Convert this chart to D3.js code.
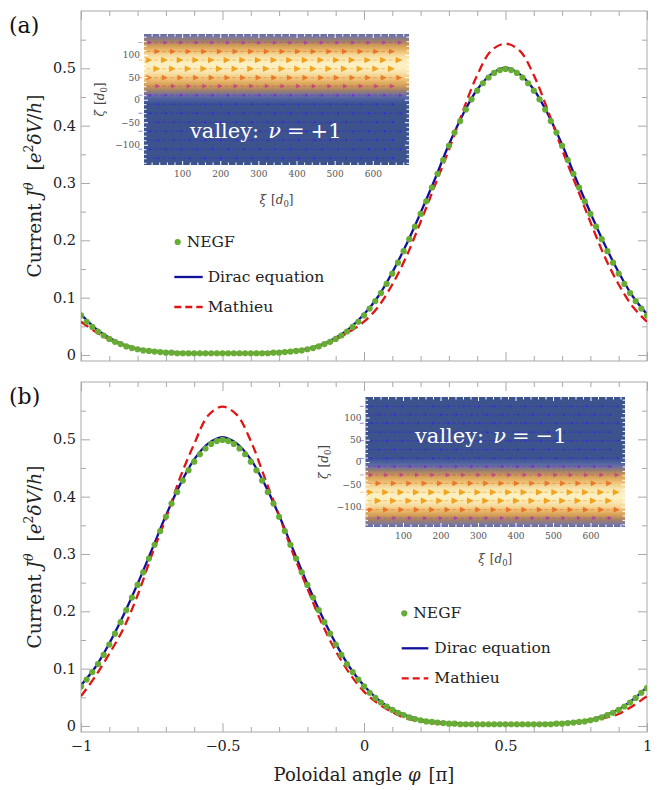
<!DOCTYPE html>
<html><head><meta charset="utf-8">
<script src="https://cdn.jsdelivr.net/npm/d3@7/dist/d3.min.js"></script>
<style>
body{margin:0;background:#fff}
svg{display:block}
svg text{font-family:"DejaVu Serif",serif}
</style>
</head><body>
<svg id="c" width="660" height="790"></svg>
<script>
// ---------------- DATA ----------------
const phiLine = [-1,-0.95,-0.9,-0.85,-0.8,-0.75,-0.7,-0.65,-0.6,-0.55,
  -0.5,-0.45,-0.4,-0.35,-0.3,-0.25,-0.2,-0.15,-0.1,-0.05,
  0,0.05,0.1,0.15,0.2,0.25,0.3,0.35,0.4,0.45,
  0.5,0.55,0.6,0.65,0.7,0.75,0.8,0.85,0.9,0.95,1];

const phiDots = [-1,-0.98,-0.96,-0.94,-0.92,-0.9,-0.88,-0.86,-0.84,-0.82,
  -0.8,-0.78,-0.76,-0.74,-0.72,-0.7,-0.68,-0.66,-0.64,-0.62,
  -0.6,-0.58,-0.56,-0.54,-0.52,-0.5,-0.48,-0.46,-0.44,-0.42,
  -0.4,-0.38,-0.36,-0.34,-0.32,-0.3,-0.28,-0.26,-0.24,-0.22,
  -0.2,-0.18,-0.16,-0.14,-0.12,-0.1,-0.08,-0.06,-0.04,-0.02,
  0,0.02,0.04,0.06,0.08,0.1,0.12,0.14,0.16,0.18,
  0.2,0.22,0.24,0.26,0.28,0.3,0.32,0.34,0.36,0.38,
  0.4,0.42,0.44,0.46,0.48,0.5,0.52,0.54,0.56,0.58,
  0.6,0.62,0.64,0.66,0.68,0.7,0.72,0.74,0.76,0.78,
  0.8,0.82,0.84,0.86,0.88,0.9,0.92,0.94,0.96,0.98,1];

// panel (a), valley nu=+1
const negfA = [0.069,0.058,0.049,0.041,0.034,0.028,0.023,0.019,0.015,0.012,
  0.010,0.008,0.007,0.006,0.005,0.004,0.004,0.003,0.003,0.003,
  0.003,0.003,0.003,0.003,0.003,0.003,0.003,0.003,0.003,0.003,
  0.003,0.003,0.003,0.003,0.004,0.004,0.005,0.006,0.007,0.008,
  0.010,0.012,0.015,0.019,0.023,0.028,0.034,0.041,0.049,0.058,
  0.069,0.081,0.094,0.108,0.124,0.142,0.161,0.181,0.202,0.224,
  0.246,0.268,0.292,0.316,0.340,0.365,0.388,0.408,0.428,0.446,
  0.461,0.474,0.484,0.492,0.497,0.499,0.497,0.492,0.484,0.474,
  0.461,0.446,0.428,0.408,0.388,0.365,0.340,0.316,0.292,0.268,
  0.246,0.224,0.202,0.181,0.161,0.142,0.124,0.108,0.094,0.081,0.069];
const diracA = [0.071,0.047,0.030,0.018,0.011,0.007,0.005,0.004,0.003,0.003,
  0.003,0.003,0.003,0.004,0.005,0.007,0.011,0.018,0.030,0.047,
  0.071,0.102,0.144,0.193,0.248,0.306,0.367,0.420,0.463,0.490,
  0.501,0.490,0.463,0.420,0.367,0.306,0.248,0.193,0.144,0.102,0.071];
const mathieuA = [0.058,0.041,0.027,0.017,0.010,0.006,0.004,0.003,0.002,0.002,
  0.002,0.002,0.002,0.003,0.004,0.006,0.010,0.017,0.027,0.041,
  0.058,0.084,0.123,0.172,0.232,0.295,0.358,0.426,0.488,0.531,
  0.543,0.531,0.488,0.426,0.358,0.295,0.232,0.172,0.123,0.084,0.058];

// panel (b), valley nu=-1
const negfB = [0.069,0.081,0.094,0.108,0.124,0.142,0.161,0.181,0.202,0.224,
  0.246,0.268,0.292,0.316,0.340,0.365,0.388,0.408,0.428,0.446,
  0.461,0.474,0.484,0.492,0.497,0.499,0.497,0.492,0.484,0.474,
  0.461,0.446,0.428,0.408,0.388,0.365,0.340,0.316,0.292,0.268,
  0.246,0.224,0.202,0.181,0.161,0.142,0.124,0.108,0.094,0.081,
  0.069,0.058,0.049,0.041,0.034,0.028,0.023,0.019,0.015,0.012,
  0.010,0.008,0.007,0.006,0.005,0.004,0.004,0.003,0.003,0.003,
  0.003,0.003,0.003,0.003,0.003,0.003,0.003,0.003,0.003,0.003,
  0.003,0.003,0.003,0.003,0.004,0.004,0.005,0.006,0.007,0.008,
  0.010,0.012,0.015,0.019,0.023,0.028,0.034,0.041,0.049,0.058,0.066];
const diracB = [0.071,0.102,0.144,0.193,0.248,0.307,0.367,0.421,0.465,0.493,
  0.504,0.493,0.465,0.421,0.367,0.307,0.248,0.193,0.144,0.102,
  0.070,0.046,0.029,0.018,0.011,0.007,0.005,0.004,0.003,0.003,
  0.003,0.003,0.003,0.004,0.005,0.007,0.011,0.018,0.029,0.046,0.068];
const mathieuB = [0.052,0.086,0.126,0.170,0.228,0.298,0.362,0.433,0.492,0.542,
  0.557,0.543,0.497,0.432,0.367,0.300,0.240,0.180,0.131,0.091,
  0.060,0.039,0.024,0.013,0.008,0.005,0.003,0.002,0.002,0.002,
  0.002,0.002,0.002,0.003,0.004,0.006,0.009,0.014,0.021,0.035,0.052];

// axis ticks
const yMajor = [0,0.1,0.2,0.3,0.4,0.5];
const yMinor = [0.05,0.15,0.25,0.35,0.45,0.55];
const xMajor = [-1,-0.5,0,0.5,1];
const xMinor = [-0.9,-0.8,-0.7,-0.6,-0.4,-0.3,-0.2,-0.1,0.1,0.2,0.3,0.4,0.6,0.7,0.8,0.9];

const zetaProfA = [-146,-130,-110,-90,-70,-50,-30,-10,0,10,20,30,40,50,60,70,80,90,100,110,120,130,140,146];
const densA     = [0,0,0,0,0,0,0,0,0.05,0.15,0.32,0.5,0.66,0.8,0.92,0.99,1.0,0.95,0.85,0.7,0.52,0.34,0.2,0.13];
const zetaProfB = [-146,-140,-130,-120,-110,-100,-90,-80,-70,-60,-50,-40,-30,-20,-10,0,10,30,50,70,90,110,130,146];
const densB     = [0.13,0.2,0.34,0.52,0.7,0.85,0.95,1.0,0.99,0.92,0.8,0.66,0.5,0.32,0.15,0.05,0,0,0,0,0,0,0,0];
const arrowRowsA = [127,107,88,69,49,30,10,-10,-30,-50,-70,-90,-110,-130];
const arrowRowsB = [125,106,87,67,48,28,8,-10,-29,-48,-68,-87,-107,-126];
const arrowCols = [22,63,104,145,186,227,268,309,350,391,432,473,514,555,596,637,678];
const xiMajor = [100,200,300,400,500,600];
const xiMinor = [20,40,60,80,120,140,160,180,220,240,260,280,320,340,360,380,420,440,460,480,520,540,560,580,620,640,660,680];
const zetaMajor = [-100,-50,0,50,100];
const zetaMinor = [-140,-130,-120,-110,-90,-80,-70,-60,-40,-30,-20,-10,10,20,30,40,60,70,80,90,110,120,130,140];

// ---------------- DRAW ----------------
const FONT = '"DejaVu Serif",serif';
const svg = d3.select("#c").attr("font-family", FONT);
const defs = svg.append("defs");
const FRAME = "#a9a9a9";
const x = d3.scaleLinear().domain([-1,1]).range([81,647]);
const fmt = d => d === 0 ? "0" : d3.format("~g")(d);

const heatColor = d3.scaleLinear()
  .domain([0,0.08,0.2,0.35,0.5,0.7,0.85,1])
  .range(["#3c538d","#5266a8","#7b76a2","#a5825f","#cf9a55","#eab86a","#f5d795","#fcf0c2"]);
const arrowColor = d3.scaleLinear()
  .domain([0,0.12,0.35,0.5,0.7,0.9,1])
  .range(["#3a2ad8","#6a34c8","#9a44b8","#c64c7c","#e66a2c","#ef9222","#f2aa1c"]);

const panels = [
  {id:"a", top:11, bottom:361, negf:negfA, dirac:diracA, mathieu:mathieuA, xLabels:false,
   label:"(a)", labelY:33,
   legend:{dotX:177.7, dotY:242, negfX:186.7, negfY:247, lx0:174.3, lx1:202.7, tx:207.7, dY:277, dTy:282, mY:307, mTy:312},
   inset:{id:"a", left:144, right:409, top:34, bottom:165, xiDom:[0,695], zetaDom:[-145,146],
     prof:zetaProfA, dens:densA, rows:arrowRowsA, sign:"+1", textX:190, textY:138,
     zetaLabX:104, xiLabY:204}},
  {id:"b", top:382, bottom:732, negf:negfB, dirac:diracB, mathieu:mathieuB, xLabels:true,
   label:"(b)", labelY:404,
   legend:{dotX:404.3, dotY:613.3, negfX:413.3, negfY:618, lx0:401.7, lx1:428.3, tx:434.3, dY:648.3, dTy:653, mY:678.3, mTy:683},
   inset:{id:"b", left:365.5, right:625, top:397, bottom:527, xiDom:[0,692], zetaDom:[-146,146],
     prof:zetaProfB, dens:densB, rows:arrowRowsB, sign:"\u22121", textX:415, textY:443,
     zetaLabX:328, xiLabY:563}}
];

panels.forEach(p => {
  const y = d3.scaleLinear().domain([-0.0105, 0.6]).range([p.bottom, p.top]);
  const g = svg.append("g");

  // frame
  g.append("rect").attr("x",81).attr("y",p.top).attr("width",566).attr("height",p.bottom-p.top)
    .attr("fill","none").attr("stroke",FRAME).attr("stroke-width",1);

  // ticks (inward on all sides)
  const tickStyle = sel => { sel.attr("font-family",FONT); sel.select(".domain").remove(); sel.selectAll("line").attr("stroke",FRAME); };
  g.append("g").attr("transform","translate(81,0)")
    .call(d3.axisLeft(y).tickValues(yMajor).tickSize(-9).tickPadding(5).tickFormat(fmt))
    .call(tickStyle)
    .call(s=>s.selectAll("text").attr("font-size",14.5).attr("fill","#222"));
  g.append("g").attr("transform","translate(81,0)")
    .call(d3.axisLeft(y).tickValues(yMinor).tickSize(-5).tickFormat("")).call(tickStyle);
  g.append("g").attr("transform","translate(647,0)")
    .call(d3.axisRight(y).tickValues(yMajor).tickSize(-9).tickFormat("")).call(tickStyle);
  g.append("g").attr("transform","translate(647,0)")
    .call(d3.axisRight(y).tickValues(yMinor).tickSize(-5).tickFormat("")).call(tickStyle);
  const bx = g.append("g").attr("transform",`translate(0,${p.bottom})`)
    .call(d3.axisBottom(x).tickValues(xMajor).tickSize(-9).tickPadding(9).tickFormat(p.xLabels ? fmt : ""))
    .call(tickStyle);
  bx.selectAll("text").attr("font-size",14.5).attr("fill","#222");
  g.append("g").attr("transform",`translate(0,${p.bottom})`)
    .call(d3.axisBottom(x).tickValues(xMinor).tickSize(-5).tickFormat("")).call(tickStyle);
  g.append("g").attr("transform",`translate(0,${p.top})`)
    .call(d3.axisTop(x).tickValues(xMajor).tickSize(-9).tickFormat("")).call(tickStyle);
  g.append("g").attr("transform",`translate(0,${p.top})`)
    .call(d3.axisTop(x).tickValues(xMinor).tickSize(-5).tickFormat("")).call(tickStyle);

  // inset
  drawInset(g, p.inset);

  // curves (clipped)
  defs.append("clipPath").attr("id","clip"+p.id).append("rect")
    .attr("x",81).attr("y",p.top).attr("width",566).attr("height",p.bottom-p.top);
  const cg = g.append("g").attr("clip-path",`url(#clip${p.id})`);
  const line = d3.line().x((d,i)=>x(phiLine[i])).y(d=>y(d)).curve(d3.curveCatmullRom.alpha(0.5));
  cg.append("path").attr("d",line(p.dirac)).attr("fill","none").attr("stroke","#10109c").attr("stroke-width",2.3);
  cg.append("path").attr("d",line(p.mathieu)).attr("fill","none").attr("stroke","#e01414").attr("stroke-width",2.3)
    .attr("stroke-dasharray","9,5");
  cg.selectAll("circle.negf").data(p.negf).join("circle").attr("class","negf")
    .attr("cx",(d,i)=>x(phiDots[i])).attr("cy",d=>y(d)).attr("r",3.1).attr("fill","#67ad35");

  // legend
  const L = p.legend;
  g.append("circle").attr("cx",L.dotX).attr("cy",L.dotY).attr("r",3.1).attr("fill","#67ad35");
  g.append("text").attr("x",L.negfX).attr("y",L.negfY).attr("font-size",15.5).attr("fill","#222").text("NEGF");
  g.append("line").attr("x1",L.lx0).attr("x2",L.lx1).attr("y1",L.dY).attr("y2",L.dY)
    .attr("stroke","#10109c").attr("stroke-width",2.3);
  g.append("text").attr("x",L.tx).attr("y",L.dTy).attr("font-size",15.5).attr("fill","#222").text("Dirac equation");
  g.append("line").attr("x1",L.lx0).attr("x2",L.lx1).attr("y1",L.mY).attr("y2",L.mY)
    .attr("stroke","#e01414").attr("stroke-width",2.3).attr("stroke-dasharray","7,4");
  g.append("text").attr("x",L.tx).attr("y",L.mTy).attr("font-size",15.5).attr("fill","#222").text("Mathieu");

  // panel label
  g.append("text").attr("x",9).attr("y",p.labelY).attr("font-size",22).attr("fill","#111").text(p.label);

  // y title
  const yc = (p.top+p.bottom)/2;
  const t = g.append("text").attr("transform",`translate(41,${yc}) rotate(-90)`)
    .attr("text-anchor","middle").attr("font-size",18.5).attr("fill","#222");
  t.append("tspan").text("Current ");
  t.append("tspan").attr("font-style","italic").text("J");
  t.append("tspan").attr("font-style","italic").attr("font-size",12.5).attr("dy",-8).text("θ");
  t.append("tspan").attr("dy",8).attr("dx",12).text("[");
  t.append("tspan").attr("font-style","italic").text("e");
  t.append("tspan").attr("font-size",12.5).attr("dy",-8).text("2");
  t.append("tspan").attr("font-style","italic").attr("dy",8).text("δV");
  t.append("tspan").text("/");
  t.append("tspan").attr("font-style","italic").text("h");
  t.append("tspan").text("]");
});

// x title
{
  const t = svg.append("text").attr("x",364).attr("y",781).attr("text-anchor","middle")
    .attr("font-size",18).attr("fill","#222");
  t.append("tspan").text("Poloidal angle ");
  t.append("tspan").attr("font-style","italic").text("φ");
  t.append("tspan").attr("dx",8).text("[π]");
}

function drawInset(g, o) {
  const xs = d3.scaleLinear().domain(o.xiDom).range([o.left, o.right]);
  const ys = d3.scaleLinear().domain(o.zetaDom).range([o.bottom, o.top]);
  const densAt = d3.scaleLinear().domain(o.prof).range(o.dens).clamp(true);
  const gid = "heat" + o.id;
  const grad = defs.append("linearGradient").attr("id",gid).attr("gradientUnits","userSpaceOnUse")
    .attr("x1",0).attr("x2",0).attr("y1",o.bottom).attr("y2",o.top);
  o.prof.forEach((z,i) => grad.append("stop")
    .attr("offset",(o.bottom - ys(z))/(o.bottom - o.top))
    .attr("stop-color",heatColor(o.dens[i])));
  const ig = g.append("g");
  ig.append("rect").attr("x",o.left).attr("y",o.top).attr("width",o.right-o.left).attr("height",o.bottom-o.top)
    .attr("fill",`url(#${gid})`);

  // arrows
  const ag = ig.append("g");
  o.rows.forEach((z,ri) => {
    const m = densAt(z);
    const col = arrowColor(m);
    const shift = (ri % 2 === 1) ? -20 : 0;
    const hl = 3 + 4*m, hw = 1.4 + 1.9*m;
    arrowCols.forEach(c => {
      const xi = c + shift;
      if (xi <= o.xiDom[0] + 6 || xi >= o.xiDom[1]) return;
      const tx = xs(xi), ty = ys(z);
      ag.append("line").attr("x1",tx-14).attr("x2",tx-hl+0.5).attr("y1",ty).attr("y2",ty)
        .attr("stroke",col).attr("stroke-width",1).attr("stroke-dasharray","4,2").attr("opacity",0.55);
      ag.append("path").attr("d",`M${tx},${ty}L${tx-hl},${ty-hw}L${tx-hl},${ty+hw}Z`).attr("fill",col);
    });
  });

  // white inward ticks
  const wt = sel => { sel.attr("font-family",FONT); sel.select(".domain").remove(); sel.selectAll("line").attr("stroke","#fff").attr("stroke-width",1); };
  const lab = sel => sel.selectAll("text").attr("font-size",9).attr("fill","#555");
  ig.append("g").attr("transform",`translate(0,${o.bottom})`)
    .call(d3.axisBottom(xs).tickValues(xiMajor).tickSize(-4).tickPadding(6).tickFormat(d3.format("d"))).call(wt).call(lab);
  ig.append("g").attr("transform",`translate(0,${o.bottom})`)
    .call(d3.axisBottom(xs).tickValues(xiMinor).tickSize(-2.5).tickFormat("")).call(wt);
  ig.append("g").attr("transform",`translate(0,${o.top})`)
    .call(d3.axisTop(xs).tickValues(xiMajor).tickSize(-4).tickFormat("")).call(wt);
  ig.append("g").attr("transform",`translate(0,${o.top})`)
    .call(d3.axisTop(xs).tickValues(xiMinor).tickSize(-2.5).tickFormat("")).call(wt);
  ig.append("g").attr("transform",`translate(${o.left},0)`)
    .call(d3.axisLeft(ys).tickValues(zetaMajor).tickSize(-4).tickPadding(4).tickFormat(d3.format("d"))).call(wt).call(lab);
  ig.append("g").attr("transform",`translate(${o.left},0)`)
    .call(d3.axisLeft(ys).tickValues(zetaMinor).tickSize(-2.5).tickFormat("")).call(wt);
  ig.append("g").attr("transform",`translate(${o.right},0)`)
    .call(d3.axisRight(ys).tickValues(zetaMajor).tickSize(-4).tickFormat("")).call(wt);
  ig.append("g").attr("transform",`translate(${o.right},0)`)
    .call(d3.axisRight(ys).tickValues(zetaMinor).tickSize(-2.5).tickFormat("")).call(wt);

  // inset axis labels
  const xl = ig.append("text").attr("x",(o.left+o.right)/2).attr("y",o.xiLabY).attr("text-anchor","middle")
    .attr("font-size",12).attr("fill","#444");
  xl.append("tspan").attr("font-style","italic").text("ξ");
  xl.append("tspan").attr("dx",5).text("[");
  xl.append("tspan").attr("font-style","italic").text("d");
  xl.append("tspan").attr("font-size",8.5).attr("dy",3).text("0");
  xl.append("tspan").attr("dy",-3).text("]");
  const zl = ig.append("text").attr("transform",`translate(${o.zetaLabX},${(o.top+o.bottom)/2}) rotate(-90)`)
    .attr("text-anchor","middle").attr("font-size",12).attr("fill","#444");
  zl.append("tspan").attr("font-style","italic").text("ζ");
  zl.append("tspan").attr("dx",5).text("[");
  zl.append("tspan").attr("font-style","italic").text("d");
  zl.append("tspan").attr("font-size",8.5).attr("dy",3).text("0");
  zl.append("tspan").attr("dy",-3).text("]");

  // valley text
  const vt = ig.append("text").attr("x",o.textX).attr("y",o.textY).attr("font-size",21).attr("fill","#fff");
  vt.append("tspan").text("valley:");
  vt.append("tspan").attr("dx",9).attr("font-style","italic").text("ν");
  vt.append("tspan").attr("dx",6).text("=");
  vt.append("tspan").attr("dx",6).text(o.sign);
}
</script>
</body></html>
